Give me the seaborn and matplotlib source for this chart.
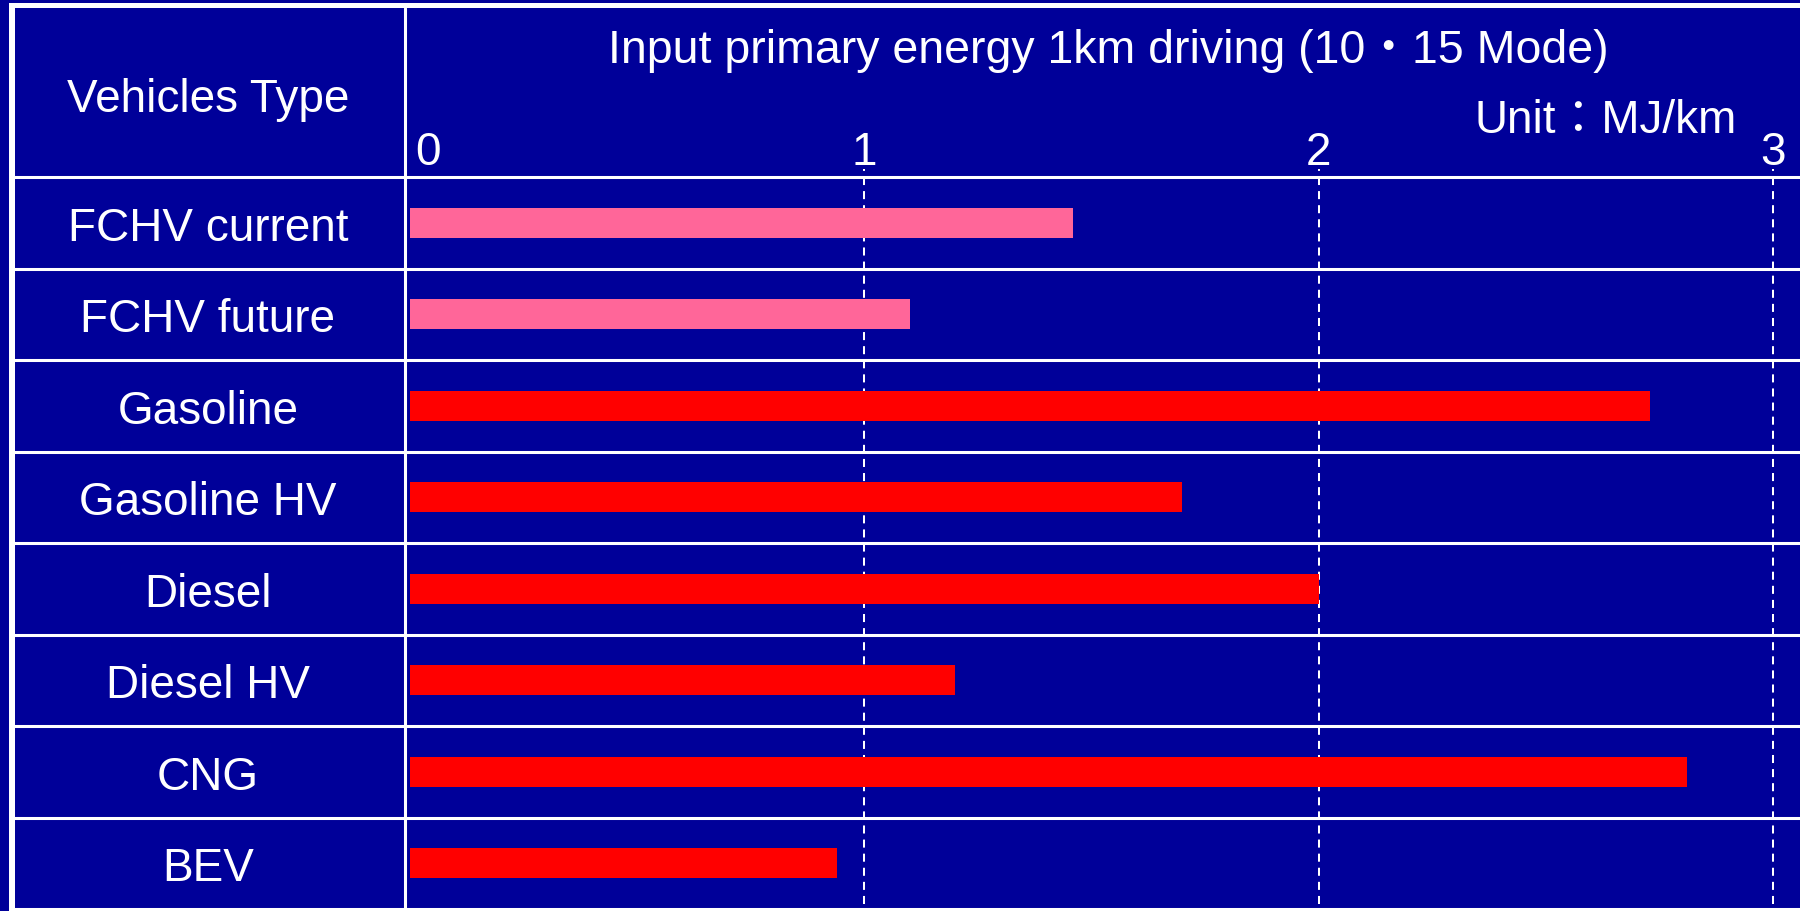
import matplotlib
matplotlib.use("Agg")
import matplotlib.pyplot as plt
import matplotlib.transforms as mtransforms
from matplotlib.patches import Rectangle
import pandas as pd
import seaborn as sns

# Primary energy needed to drive 1 km (10・15 mode), MJ/km
vehicles = ["FCHV current", "FCHV future", "Gasoline", "Gasoline HV",
            "Diesel", "Diesel HV", "CNG", "BEV"]
energy = [1.46, 1.10, 2.73, 1.70, 2.00, 1.20, 2.81, 0.94]
kind = ["FCHV", "FCHV", "Other", "Other", "Other", "Other", "Other", "Other"]
x_ticks = [0, 1, 2, 3]
x_tick_labels = ["0", "1", "2", "3"]
header_left = "Vehicles Type"
header_title = "Input primary energy 1km driving (10・15 Mode)"
unit_label = "Unit：MJ/km"

BG = "#000099"
PINK = "#FF6699"
RED = "#FF0000"
WHITE = "#FFFFFF"

sns.set_style("white", {"axes.facecolor": BG, "figure.facecolor": BG})
plt.rcParams["font.family"] = ["Liberation Sans", "Noto Sans CJK JP", "DejaVu Sans"]

W, H = 1800, 912
fig = plt.figure(figsize=(W / 100, H / 100), dpi=100, facecolor=BG)


def fx(px):
    return px / W


def fy(py):
    return (H - py) / H


# plot area: right column of the table, below the header row
ax_left, ax_right, ax_top, ax_bottom = 406, 1800, 178, 910
ax = fig.add_axes([fx(ax_left), fy(ax_bottom),
                   fx(ax_right - ax_left), (ax_bottom - ax_top) / H])
ax.set_facecolor(BG)

df = pd.DataFrame({"vehicle": vehicles, "energy": energy, "kind": kind})
sns.barplot(data=df, x="energy", y="vehicle", hue="kind",
            palette={"FCHV": PINK, "Other": RED}, orient="h",
            width=0.33, dodge=False, legend=False, saturation=1,
            linewidth=0, ax=ax, zorder=3)

# zero sits slightly inside the divider, 3 near the right edge
unit_px = (1773 - 410) / 3.0
ax.set_xlim((ax_left - 410) / unit_px, (ax_right - 410) / unit_px)
ax.set_ylim(len(vehicles) - 0.5, -0.5)

for s in ax.spines.values():
    s.set_visible(False)

# value ticks along the top
ax.xaxis.tick_top()
ax.set_xticks(x_ticks)
ax.set_xticklabels(x_tick_labels)
ax.tick_params(axis="x", length=0, pad=2.4, labelsize=33, labelcolor=WHITE)
ax.set_xlabel("")
ax.set_ylabel("")
zero_lbl = ax.get_xticklabels()[0]
zero_lbl.set_transform(zero_lbl.get_transform() +
                       mtransforms.ScaledTranslation(18 / 100, 0, fig.dpi_scale_trans))

# vehicle names centred in the left column
ax.tick_params(axis="y", length=0, pad=(ax_left - 208) * 72 / 100,
               labelsize=33, labelcolor=WHITE)
for lbl in ax.get_yticklabels():
    lbl.set_horizontalalignment("center")

# dashed reference lines at 1, 2, 3
xt = mtransforms.blended_transform_factory(ax.transData, ax.transAxes)
ax.vlines(x_ticks[1:], (ax_bottom - 905) / (ax_bottom - ax_top),
          (ax_bottom - 170) / (ax_bottom - ax_top), transform=xt,
          colors=WHITE, linewidth=1.45, linestyles=(0, (4, 3)),
          clip_on=False, zorder=1)

# table row separators spanning both columns
yt = mtransforms.blended_transform_factory(ax.transAxes, ax.transData)
x_start = (14 - ax_left) / (ax_right - ax_left)
for b in [i - 0.5 for i in range(len(vehicles) + 1)]:
    ax.plot([x_start, 1], [b, b], transform=yt, color=WHITE,
            linewidth=2.2, clip_on=False, zorder=4, solid_capstyle="butt")

# column divider and outer frame
fig.add_artist(plt.Line2D([fx(404.5), fx(404.5)], [fy(9), fy(912)],
                          transform=fig.transFigure, color=WHITE, linewidth=2.2))
fig.add_artist(Rectangle((fx(8.7), 0), fx(6), fy(4), transform=fig.transFigure,
                         facecolor=WHITE, edgecolor="none"))
fig.add_artist(Rectangle((fx(8.7), fy(9)), 1, 5 / H, transform=fig.transFigure,
                         facecolor=WHITE, edgecolor="none"))

# header row texts
fig.text(fx(208), fy(112), header_left, ha="center", va="baseline",
         color=WHITE, fontsize=33)
fig.text(fx(1108), fy(63), header_title, ha="center", va="baseline",
         color=WHITE, fontsize=33.5)
fig.text(fx(1475), fy(133), unit_label, ha="left", va="baseline",
         color=WHITE, fontsize=33)

fig.savefig("out.png", dpi=100, facecolor=BG)
